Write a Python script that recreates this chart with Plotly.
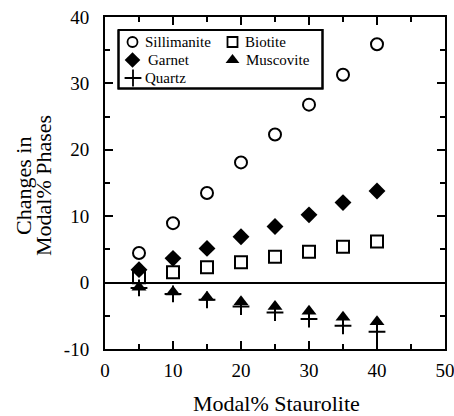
import plotly.graph_objects as go

staurolite = [5, 10, 15, 20, 25, 30, 35, 40]
sillimanite = [4.45, 8.95, 13.5, 18.1, 22.3, 26.8, 31.3, 35.9]
garnet = [1.95, 3.65, 5.15, 6.9, 8.45, 10.2, 12.05, 13.8]
biotite = [0.8, 1.55, 2.3, 3.05, 3.9, 4.65, 5.4, 6.2]
muscovite = [-0.7, -1.4, -2.2, -2.9, -3.6, -4.3, -5.2, -5.9]
quartz = [-0.8, -1.7, -2.6, -3.6, -4.5, -5.5, -6.5, -7.4]
quartz_err_minus = [0, 0, 0, 0, 0, 0, 0, 2.6]

x_ticks = [0, 10, 20, 30, 40, 50]
y_ticks = [-10, 0, 10, 20, 30, 40]
y_ticktext = ["-10", "0", "10", "20", "30", "40"]
x_title = "Modal% Staurolite"
y_title_lines = ["Changes in", "Modal% Phases"]

font = "Liberation Serif"
W, H = 454, 416
ML, MR, MT, MB = 105, 9, 17, 67
PW, PH = W - ML - MR, H - MT - MB
XR, YR = (0, 50), (-10, 40)

series = [
    ("Sillimanite", sillimanite, dict(symbol="circle-open", size=12, color="black", line=dict(width=2))),
    ("Garnet", garnet, dict(symbol="diamond", size=13, color="black")),
    ("Quartz", quartz, dict(symbol="cross-thin-open", size=12, color="black", line=dict(width=2, color="black"))),
    ("Biotite", biotite, dict(symbol="square-open", size=12, color="black", line=dict(width=2))),
    ("Muscovite", muscovite, dict(symbol="triangle-up", size=13, color="black")),
]
# legend layout (pixel position of symbol centre, text start)
legend_pos = {
    "Sillimanite": (132.5, 42, 144),
    "Garnet": (132.5, 60, 147),
    "Quartz": (133, 78, 144),
    "Biotite": (232.5, 42, 244),
    "Muscovite": (232.5, 60, 245),
}
legend_sizes = {"Sillimanite": 10, "Garnet": 12, "Quartz": 12, "Biotite": 10, "Muscovite": 12}

fig = go.Figure()
for name, ys, mk in series:
    kw = {}
    if name == "Quartz":
        kw["error_y"] = dict(type="data", symmetric=False, array=[0] * len(ys), arrayminus=quartz_err_minus,
                             width=0, thickness=2, color="black")
    fig.add_trace(go.Scatter(x=staurolite, y=ys, mode="markers", name=name, showlegend=False, marker=mk, **kw))

def px2paper(px, py):
    return (px - ML) / PW, 1 - (py - MT) / PH

def px2data(px, py):
    fx, fy = px2paper(px, py)
    return XR[0] + fx * (XR[1] - XR[0]), YR[0] + fy * (YR[1] - YR[0])

# legend box drawn on the main axes
bx0, by0 = px2data(118.5, 30)
bx1, by1 = px2data(322.5, 88.5)
fig.add_trace(go.Scatter(x=[bx0, bx1, bx1, bx0, bx0], y=[by0, by0, by1, by1, by0], mode="lines",
                         line=dict(color="black", width=2), showlegend=False, hoverinfo="skip"))

annotations = []
for name, ys, mk in series:
    sx, sy, tx = legend_pos[name]
    lx, ly = px2data(sx, sy)
    lmk = dict(mk)
    lmk["size"] = legend_sizes[name]
    if "line" in lmk:
        lmk["line"] = dict(lmk["line"], width=1.8)
    fig.add_trace(go.Scatter(x=[lx], y=[ly], mode="markers", marker=lmk, showlegend=False, hoverinfo="skip"))
    ax, ay = px2paper(tx, sy)
    annotations.append(dict(x=ax, y=ay, xref="paper", yref="paper", text=name, showarrow=False,
                            xanchor="left", yanchor="middle", borderpad=0,
                            font=dict(family=font, size=15, color="black")))

tx_, ty_ = px2paper(276, 403)
annotations.append(dict(x=tx_, y=ty_, xref="paper", yref="paper", text=x_title, showarrow=False,
                        xanchor="center", yanchor="middle", font=dict(family=font, size=22, color="black")))
for line, cx in zip(y_title_lines, [23, 43]):
    ax, ay = px2paper(cx, 186)
    annotations.append(dict(x=ax, y=ay, xref="paper", yref="paper", text=line, showarrow=False, textangle=-90,
                            xanchor="center", yanchor="middle", font=dict(family=font, size=22, color="black")))

axis_common = dict(showgrid=False, showline=True, linecolor="black", linewidth=2, mirror="ticks",
                   ticks="inside", ticklen=8, tickwidth=2, tickcolor="black", automargin=False,
                   ticklabeloverflow="allow",
                   tickfont=dict(family=font, size=19, color="black"),
                   minor=dict(ticks="inside", ticklen=5, tickwidth=1.5, tickcolor="black", dtick=5))
fig.update_layout(
    xaxis=dict(range=list(XR), tickvals=x_ticks, zeroline=False, ticklabelstandoff=3, **axis_common),
    yaxis=dict(range=list(YR), tickvals=y_ticks, ticktext=y_ticktext, zeroline=True, zerolinecolor="black",
               zerolinewidth=1.5, ticklabelstandoff=10, **axis_common),
    width=W, height=H,
    margin=dict(l=ML, r=MR, t=MT, b=MB),
    paper_bgcolor="white", plot_bgcolor="white",
    font=dict(family=font, color="black"),
    showlegend=False,
    annotations=annotations,
    shapes=[dict(type="rect", xref="x", yref="y", x0=bx0, x1=bx1, y0=by1, y1=by0,
                 line=dict(color="black", width=2), layer="above")],
)
fig.write_html("out.html")
